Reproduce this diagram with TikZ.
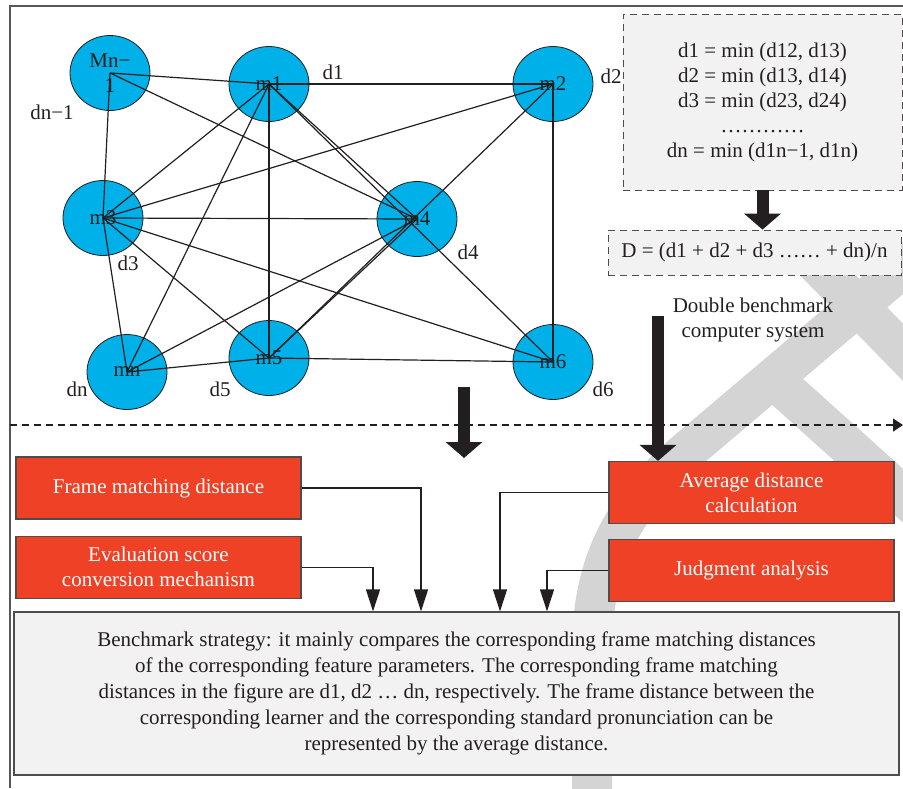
\documentclass[tikz,border=0pt]{standalone}
\usepackage{fontspec}
\setmainfont{Liberation Serif}
\usetikzlibrary{positioning,arrows.meta,shapes.geometric,calc}
\pgfdeclarelayer{bg}
\pgfsetlayers{bg,main}
\definecolor{nodeblue}{RGB}{0,176,232}
\definecolor{boxred}{RGB}{238,65,38}
\definecolor{boxgrey}{RGB}{242,242,242}
\definecolor{inkdark}{RGB}{35,31,32}
\definecolor{markgrey}{RGB}{212,212,212}
\tikzset{
	>={Triangle[width=7pt,length=11pt]}
}

\begin{document}
\begin{tikzpicture}[
x = 0.5pt, y = -0.5pt,
node distance = 8pt,
every node/.style = {
	font = \fontsize{10.5}{12.5}\selectfont,
	text = inkdark
},
point/.style = {
	ellipse,
	draw = inkdark,
	fill = nodeblue,
	minimum width = 40pt,
	minimum height = 37.5pt,
	inner sep = 0pt
},
link/.style = {
	draw = inkdark,
	line width = 0.6pt
},
formula/.style = {
	draw = inkdark!80,
	dash pattern = on 3.5pt off 2.5pt,
	fill = boxgrey,
	align = center
},
task/.style = {
	draw = inkdark!80,
	fill = boxred,
	text = white,
	align = center,
	minimum width = 142.5pt,
	minimum height = 31pt,
	line width = 0.6pt
},
bigarrow/.style = {
	draw = inkdark,
	line width = 6pt,
	-{Triangle[width=18pt,length=8pt]}
}
]

\useasboundingbox (0,0) rectangle (903,788);

% watermark
\begin{pgfonlayer}{bg}
\draw[markgrey, line width=20pt] (930,245) -- (700,440) .. controls (625,500) and (592,560) .. (592,650) -- (592,800);
\draw[markgrey, line width=20pt] (780,385) -- (930,520);
\draw[markgrey, line width=20pt] (815,262) -- (930,380);
\end{pgfonlayer}

\draw[inkdark!75, line width=0.7pt] (903,6) -- (10,6) -- (10,788);

% graph
\node (mnm1) [point, align=center] at (110,73) {Mn−\\1};
\node (m1) [point] at (269,84) {m1};
\node (m2) [point] at (553,84) {m2};
\node (m3) [point] at (103,218) {m3};
\node (m4) [point] at (417,219) {m4};
\node (mn) [point] at (127,372) {mn};
\node (m5) [point] at (269,358) {m5};
\node (m6) [point] at (553,362) {m6};

\foreach \a/\b in {mnm1/m1, mnm1/m3, mnm1/m4,
	m1/m2, m1/m3, m1/mn, m1/m5, m1/m4, m1/m6,
	m2/m3, m2/m5, m2/m6,
	m3/m4, m3/m5, m3/m6, m3/mn,
	mn/m4, mn/m5, m5/m4, m5/m6}
	\draw[link] (\a.center) -- (\b.center);

\node (lab_d1) at (333,72) {d1};
\node (lab_d2) at (611,76) {d2};
\node (lab_dnm1) at (52,112) {dn−1};
\node (lab_d3) at (128,263) {d3};
\node (lab_d4) at (468,252) {d4};
\node (lab_dn) at (77,389) {dn};
\node (lab_d5) at (220,389) {d5};
\node (lab_d6) at (603,389) {d6};

% distances
\node (minbox) [formula, minimum width=139.5pt, minimum height=88pt] at (762.5,102)
	{d1 = min (d12, d13)\\d2 = min (d13, d14)\\d3 = min (d23, d24)\\…………\\dn = min (d1n−1, d1n)};
\node (meanbox) [formula, minimum width=146.5pt, minimum height=22.5pt] at (754.5,252.5)
	{D = (d1 + d2 + d3 …… + dn)/n};
\draw[bigarrow] (minbox.south) -- (minbox.south |- meanbox.north);

\node (dbl_text) [align=center] at (753,320) {Double benchmark\\computer system};

\coordinate (div_l) at (10,425);
\coordinate (div_r) at (903,425);
\draw[inkdark, line width=0.6pt, dash pattern=on 3.5pt off 2.5pt, -{Triangle[width=6.5pt,length=5pt]}] (div_l) -- (div_r);

% evaluation
\node (fmd) [task] at (158.5,488) {Frame matching distance};
\node (esc) [task, below = of fmd] {Evaluation score\\conversion mechanism};
\node (adc) [task] at (751.5,492.5) {Average distance\\calculation};
\node (jan) [task, below = 7.5pt of adc] {Judgment analysis};

\coordinate (split_top) at (464,387);
\coordinate (split_tip) at (464,458);
\draw[bigarrow] (split_top) -- (split_tip);
\coordinate (dbl_top) at (658,316);
\draw[bigarrow] (dbl_top) -- (dbl_top |- adc.north);

\node (strategy) [draw=inkdark!80, fill=boxgrey, line width=0.6pt, align=center,
	minimum width=442.5pt, minimum height=81.5pt,
	font=\fontsize{10.5}{13}\selectfont] at (456.5,693.5)
	{Benchmark strategy: it mainly compares the corresponding frame matching distances\\
	of the corresponding feature parameters. The corresponding frame matching\\
	distances in the figure are d1, d2 … dn, respectively. The frame distance between the\\
	corresponding learner and the corresponding standard pronunciation can be\\
	represented by the average distance.};

\draw[link, ->] (fmd.east) -| ([xshift=-17.75pt]strategy.north);
\draw[link, ->] (esc.east) -| ([xshift=-41.75pt]strategy.north);
\draw[link, ->] (adc.west) -| ([xshift=21.75pt]strategy.north);
\draw[link, ->] (jan.west) -| ([xshift=45.25pt]strategy.north);

\end{tikzpicture}
\end{document}
